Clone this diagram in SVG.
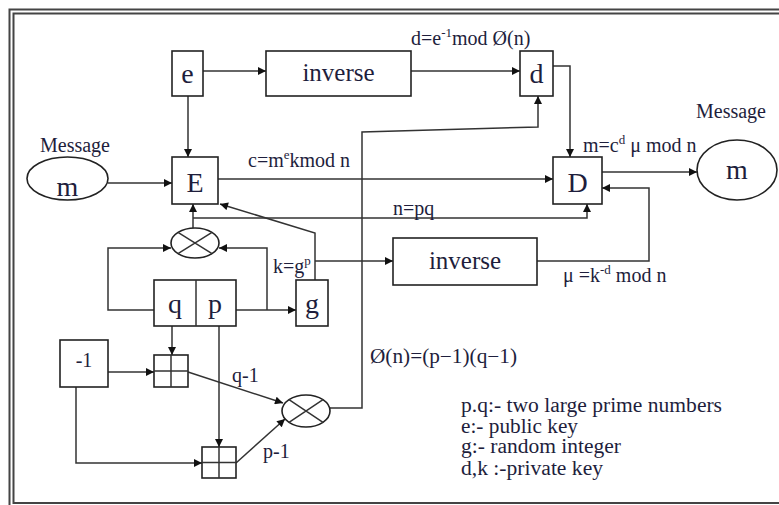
<svg xmlns="http://www.w3.org/2000/svg" width="779" height="505" viewBox="0 0 779 505" font-family="'Liberation Serif', 'DejaVu Serif', 'Times New Roman', serif">
<style>
.frame{fill:none;stroke:#444;stroke-width:2}
.box{fill:#fff;stroke:#222;stroke-width:1.6}
.ln{fill:none;stroke:#333;stroke-width:1.5}
text{font-family:'Liberation Serif','DejaVu Serif','Times New Roman',serif;fill:#1e1e3c}
.big{font-size:28px;text-anchor:middle}
.mid{font-size:25px;text-anchor:middle}
.lab{font-size:20px}
.leg{font-size:20px}
</style>
<defs>
<marker id="ah" viewBox="0 0 10 10" refX="10" refY="5" markerWidth="9" markerHeight="8" markerUnits="userSpaceOnUse" orient="auto">
<path d="M0,0 L10,5 L0,10 z" fill="#111"/>
</marker>
</defs>
<rect width="779" height="505" fill="#fff"/>
<rect class="frame" x="9.5" y="9.5" width="800" height="510"/>
<rect class="frame" x="13.5" y="13.5" width="800" height="489.5"/>

<g id="connectors">
<path class="ln" d="M203,71 H266" marker-end="url(#ah)"/>
<path class="ln" d="M411,71 H520" marker-end="url(#ah)"/>
<path class="ln" d="M188,96 V157" marker-end="url(#ah)"/>
<path class="ln" d="M108,183 H172" marker-end="url(#ah)"/>
<path class="ln" d="M218,179 H553" marker-end="url(#ah)"/>
<path class="ln" d="M553,66 H570 V157" marker-end="url(#ah)"/>
<path class="ln" d="M602,172 H697" marker-end="url(#ah)"/>
<path class="ln" d="M537,261 H649 V188 H602" marker-end="url(#ah)"/>
<path class="ln" d="M330,408 H362 V132 L538,127 V96" marker-end="url(#ah)"/>
<path class="ln" d="M193,228 V204" marker-end="url(#ah)"/>
<path class="ln" d="M193,218 H587 V204" marker-end="url(#ah)"/>
<path class="ln" d="M315,280 V233 L220,204" marker-end="url(#ah)"/>
<path class="ln" d="M154,310 H108 V248 H171" marker-end="url(#ah)"/>
<path class="ln" d="M267,310 V248 H219" marker-end="url(#ah)"/>
<path class="ln" d="M236,310 H296" marker-end="url(#ah)"/>
<path class="ln" d="M315,261 H393" marker-end="url(#ah)"/>
<path class="ln" d="M108,372 H154" marker-end="url(#ah)"/>
<path class="ln" d="M172,326 V355" marker-end="url(#ah)"/>
<path class="ln" d="M219,326 V447" marker-end="url(#ah)"/>
<path class="ln" d="M76,387 V463 H202" marker-end="url(#ah)"/>
<path class="ln" d="M188,372 L283,403" marker-end="url(#ah)"/>
<path class="ln" d="M236,463 L285,419" marker-end="url(#ah)"/>
</g>

<g id="e">
<rect class="box" x="172" y="51" width="31" height="45"/>
<text class="big" x="187.5" y="83">e</text>
</g>
<g id="inverse1">
<rect class="box" x="266" y="51" width="145" height="45"/>
<text class="mid" x="338.5" y="81">inverse</text>
</g>
<g id="d">
<rect class="box" x="520" y="51" width="33" height="45"/>
<text class="big" x="536.5" y="83">d</text>
</g>
<g id="mIn">
<ellipse class="box" cx="67.5" cy="178.5" rx="40.5" ry="21.5"/>
<text class="big" x="67.5" y="196">m</text>
<text class="lab" x="40" y="152">Message</text>
</g>
<g id="E">
<rect class="box" x="172" y="157" width="46" height="47"/>
<text class="big" x="195" y="192">E</text>
</g>
<g id="D">
<rect class="box" x="553" y="157" width="49" height="47"/>
<text class="big" x="577.5" y="192">D</text>
</g>
<g id="mOut">
<ellipse class="box" cx="737" cy="170" rx="40" ry="30"/>
<text class="big" x="737" y="179">m</text>
<text class="lab" x="696" y="118">Message</text>
</g>
<g id="mult1">
<ellipse class="box" cx="195" cy="243" rx="24" ry="15"/>
<path class="ln" d="M178,232.4 L212,253.6 M178,253.6 L212,232.4"/>
</g>
<g id="qp">
<rect class="box" x="154" y="280" width="82" height="46"/>
<line class="ln" x1="196" y1="280" x2="196" y2="326"/>
<text class="big" x="175" y="313">q</text>
<text class="big" x="215" y="313">p</text>
</g>
<g id="g">
<rect class="box" x="296" y="280" width="32" height="46"/>
<text class="big" x="312" y="313">g</text>
</g>
<g id="inverse2">
<rect class="box" x="393" y="238" width="144" height="47"/>
<text class="mid" x="465" y="269">inverse</text>
</g>
<g id="minus1">
<rect class="box" x="60" y="340" width="48" height="47"/>
<text class="lab" x="84" y="367" text-anchor="middle">-1</text>
</g>
<g id="plus1">
<rect class="box" x="154" y="355" width="34" height="32"/>
<path class="ln" d="M171,355 V387 M154,371 H188"/>
</g>
<g id="plus2">
<rect class="box" x="202" y="447" width="34" height="31"/>
<path class="ln" d="M219,447 V478 M202,462.5 H236"/>
</g>
<g id="mult2">
<ellipse class="box" cx="306" cy="411" rx="24" ry="16"/>
<path class="ln" d="M289,399.7 L323,422.3 M289,422.3 L323,399.7"/>
</g>

<g id="labels">
<text class="lab" x="411" y="45">d=e<tspan font-size="13" dy="-8">-1</tspan><tspan dy="8">mod Ø(n)</tspan></text>
<text class="lab" x="248" y="167">c=m<tspan font-size="13" dy="-8">e</tspan><tspan dy="8">kmod n</tspan></text>
<text class="lab" x="583" y="152">m=c<tspan font-size="13" dy="-8">d</tspan><tspan dy="8"> μ mod n</tspan></text>
<text class="lab" x="393" y="215">n=pq</text>
<text class="lab" x="273" y="273">k=g<tspan font-size="13" dy="-8">p</tspan></text>
<text class="lab" x="563" y="282">μ =k<tspan font-size="13" dy="-8">-d</tspan><tspan dy="8"> mod n</tspan></text>
<text class="lab" x="232" y="382">q-1</text>
<text class="lab" x="263" y="458">p-1</text>
<text class="leg" x="370" y="363" textLength="147" lengthAdjust="spacingAndGlyphs">Ø(n)=(p−1)(q−1)</text>
<text class="leg" x="461" y="412" textLength="261" lengthAdjust="spacingAndGlyphs">p.q:- two large prime numbers</text>
<text class="leg" x="461" y="433" textLength="117" lengthAdjust="spacingAndGlyphs">e:- public key</text>
<text class="leg" x="461" y="453" textLength="160" lengthAdjust="spacingAndGlyphs">g:- random integer</text>
<text class="leg" x="461" y="475" textLength="142" lengthAdjust="spacingAndGlyphs">d,k :-private key</text>
</g>
</svg>
